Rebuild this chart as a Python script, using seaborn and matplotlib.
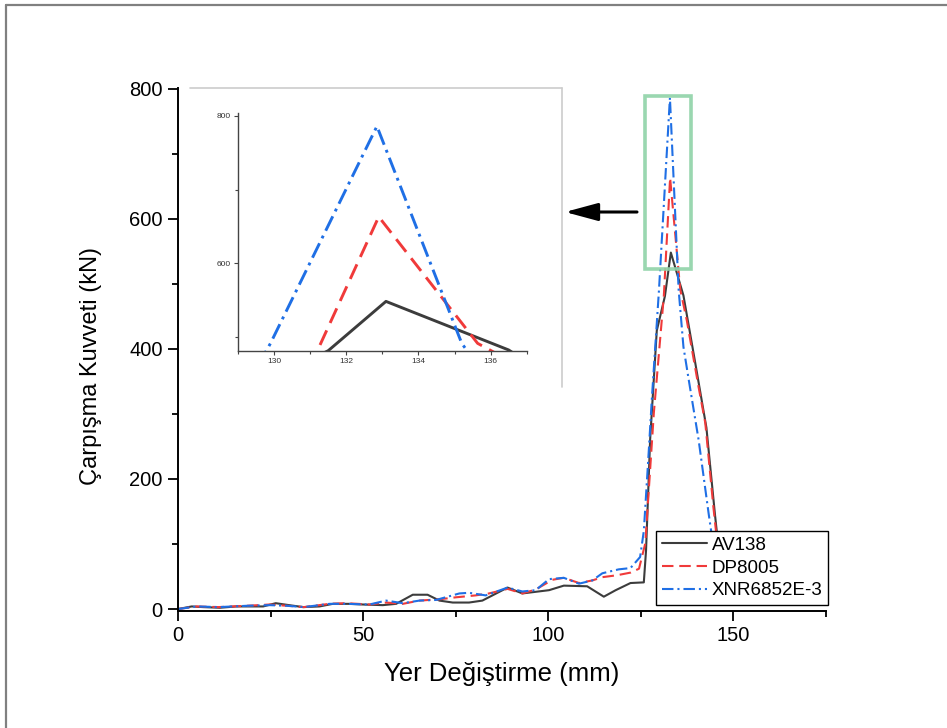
import numpy as np
import pandas as pd
import seaborn as sns
import matplotlib.pyplot as plt
from matplotlib.lines import Line2D
from matplotlib.patches import Rectangle
from matplotlib.ticker import MultipleLocator

# Crash force vs. displacement for three materials
series_names = ["AV138", "DP8005", "XNR6852E-3"]

av138_x = [0, 3.7, 6.8, 11.3, 15.8, 23, 26.4, 30, 33.8, 38.2, 41.8, 46.3, 49.9, 55.3,
           58.9, 63.4, 67.4, 70.6, 74.2, 78.6, 82.2, 89, 93, 100.2, 104.2, 110.5, 115,
           118.2, 122.2, 125.8, 126.4, 127.5, 129.3, 131.5, 133.1, 136.5, 139.7, 142.7,
           145, 147]
av138_y = [0, 4, 3, 2, 4, 4, 9, 6, 3, 4, 8, 8, 7, 6,
           8, 22, 22, 13, 10, 10, 13, 33, 24, 29, 36, 35, 19,
           29, 40, 41, 90, 260, 428, 481, 548, 482, 378, 279,
           146, 40]

dp8005_x = [0, 5, 11, 18.5, 24.8, 29.5, 34, 40.9, 45.4, 51.7, 56.2, 60.7, 65.2, 70.6,
            75, 80.4, 84, 89, 93, 96.6, 101.1, 104.2, 108.3, 111.9, 114.6, 118.6, 122.2,
            124.5, 125.5, 126.2, 128.5, 131.2, 132.9, 135.64, 137.4, 140.6, 142.4, 144.6,
            147]
dp8005_y = [0, 4, 3, 5, 7, 5, 3, 8, 9, 7, 10, 8, 13, 15,
            18, 21, 24, 31, 24, 30, 45, 48, 40, 44, 49, 52, 56,
            62, 85, 101, 301, 481, 663, 491, 444, 341, 286, 156,
            30]

xnr_x = [0, 5, 11, 18.5, 24.8, 29.5, 34, 40.9, 45.4, 51.7, 56.2, 60.7, 65.2, 69.7,
         76, 78.6, 83.1, 89, 93, 96.6, 100.2, 104.2, 108.3, 111.9, 114.6, 119, 122.2,
         124.8, 125.8, 127, 128, 129.9, 132.85, 135.2, 136.5, 138, 140.6, 143.3, 146]
xnr_y = [0, 4, 3, 5, 6, 5, 3, 8, 8, 7, 13, 9, 13, 14,
         24, 25, 21, 33, 27, 29, 46, 48, 39, 44, 55, 61, 63,
         80, 120, 230, 326, 491, 786, 491, 403, 350, 260, 147, 40]

xlabel_text = "Yer Değiştirme (mm)"
ylabel_text = "Çarpışma Kuvveti (kN)"

df = pd.concat([
    pd.DataFrame({"x": av138_x, "y": av138_y, "series": series_names[0]}),
    pd.DataFrame({"x": dp8005_x, "y": dp8005_y, "series": series_names[1]}),
    pd.DataFrame({"x": xnr_x, "y": xnr_y, "series": series_names[2]}),
], ignore_index=True)

palette = {"AV138": "#3c3c3c", "DP8005": "#f03a3a", "XNR6852E-3": "#1f6fe5"}
dashes = {"AV138": "", "DP8005": (5.5, 2.8), "XNR6852E-3": (5.5, 1.9, 1.0, 1.9)}

sns.set_theme(style="ticks")
plt.rcParams["font.family"] = ["Liberation Sans", "DejaVu Sans"]

W, H = 947, 728
fig = plt.figure(figsize=(W / 100, H / 100), dpi=100)
fig.patch.set_facecolor("white")

# outer frame lines (top and left)
fig.add_artist(Line2D([6 / W, 1], [1 - 5 / H, 1 - 5 / H], transform=fig.transFigure,
                      color="#808080", lw=1.6))
fig.add_artist(Line2D([6 / W, 6 / W], [0, 1 - 5 / H], transform=fig.transFigure,
                      color="#808080", lw=1.6))

# main axes
ax = fig.add_axes([178 / W, 1 - 611 / H, (826 - 178) / W, (611 - 88) / H])
sns.lineplot(data=df, x="x", y="y", hue="series", style="series",
             palette=palette, dashes=dashes, sort=False, estimator=None,
             linewidth=1.5, ax=ax)

ax.set_xlim(0, 175)
ax.set_ylim(-3, 801)
ax.xaxis.set_major_locator(MultipleLocator(50))
ax.xaxis.set_minor_locator(MultipleLocator(25))
ax.yaxis.set_major_locator(MultipleLocator(200))
ax.yaxis.set_minor_locator(MultipleLocator(100))
ax.tick_params(which="major", direction="out", length=7, width=1.3,
               labelsize=14.5, color="black", labelcolor="black", pad=4)
ax.tick_params(which="minor", direction="out", length=4, width=1.3, color="black")
for side in ("top", "right"):
    ax.spines[side].set_visible(False)
for side in ("left", "bottom"):
    ax.spines[side].set_linewidth(1.4)
    ax.spines[side].set_color("black")

ax.set_xlabel(xlabel_text, fontsize=18.5, color="black")
ax.set_ylabel(ylabel_text, fontsize=17, color="black")
ax.xaxis.set_label_coords(0.5, -0.097)
ax.yaxis.set_label_coords(-0.118, 0.468)

# highlight box around the peaks
ax.add_patch(Rectangle((126, 522), 12.6, 267, fill=False, edgecolor="#8fd3a8",
                       lw=2.6, alpha=0.9, zorder=5))

# arrow pointing to the zoomed view
ax.annotate("", xy=(565, H - 212), xytext=(637, H - 212), xycoords="figure pixels",
            textcoords="figure pixels", annotation_clip=False,
            arrowprops=dict(arrowstyle="-|>,head_length=1.0,head_width=0.27",
                            color="black", lw=2.2, mutation_scale=20,
                            shrinkA=0, shrinkB=0))

sns.move_legend(ax, "lower right", bbox_to_anchor=(828 / W, 1 - 605 / H),
                bbox_transform=fig.transFigure, title=None, frameon=True,
                fancybox=False, edgecolor="black", framealpha=1, fontsize=13.5,
                handlelength=2.4, handletextpad=0.25, labelspacing=0.3,
                borderpad=0.3, borderaxespad=0)
leg = ax.get_legend()
leg.get_frame().set_linewidth(1.0)
leg.set_zorder(10)
for t in leg.get_texts():
    t.set_color("black")

# panel behind the zoomed view
fig.add_artist(Line2D([190 / W, 562 / W], [1 - 88 / H, 1 - 88 / H],
                      transform=fig.transFigure, color="#cccccc", lw=1.2))
fig.add_artist(Line2D([562 / W, 562 / W], [1 - 88 / H, 1 - 387 / H],
                      transform=fig.transFigure, color="#cccccc", lw=1.2))

# zoomed view of the peaks
axi = fig.add_axes([238 / W, 1 - 350.7 / H, (526.7 - 238) / W, (350.7 - 113) / H])
sns.lineplot(data=df, x="x", y="y", hue="series", style="series",
             palette=palette, dashes=dashes, sort=False, estimator=None,
             linewidth=2.1, legend=False, ax=axi)
axi.set_xlim(129, 137)
axi.set_ylim(481, 804)
axi.xaxis.set_major_locator(MultipleLocator(2))
axi.xaxis.set_minor_locator(MultipleLocator(1))
axi.yaxis.set_major_locator(MultipleLocator(200))
axi.yaxis.set_minor_locator(MultipleLocator(100))
axi.tick_params(which="major", direction="out", length=3, width=0.8,
                labelsize=6, color="#444444", labelcolor="#333333", pad=2)
axi.tick_params(which="minor", direction="out", length=2, width=0.8, color="#444444")
axi.set_xlabel("")
axi.set_ylabel("")
for side in ("top", "right"):
    axi.spines[side].set_visible(False)
for side in ("left", "bottom"):
    axi.spines[side].set_linewidth(1.0)
    axi.spines[side].set_color("#444444")

fig.savefig("out.png", dpi=100)
